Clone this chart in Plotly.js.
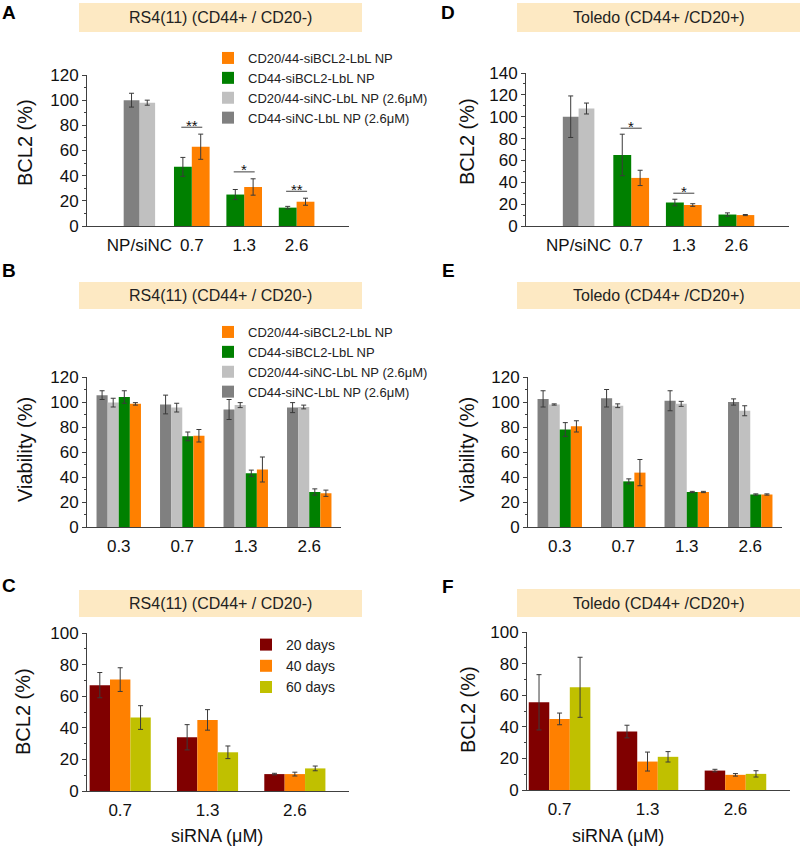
<!DOCTYPE html>
<html>
<head>
<meta charset="utf-8">
<script src="https://cdn.plot.ly/plotly-3.0.1.min.js"></script>
<style>
  html, body { margin: 0; padding: 0; background: #fff; }
  #chart { width: 800px; height: 849px; }
</style>
</head>
<body>
<div id="chart"></div>
<script>
const W = 800, H = 849;
const FONT = "Liberation Sans, Arial, sans-serif";

// categories
const knockCats = ["NP/siNC", "0.7", "1.3", "2.6"];
const viaCats = ["0.3", "0.7", "1.3", "2.6"];
const siRNACats = ["0.7", "1.3", "2.6"];
const seriesNames = ["CD20/44-siBCL2-LbL NP", "CD44-siBCL2-LbL NP",
  "CD20/44-siNC-LbL NP (2.6μM)", "CD44-siNC-LbL NP (2.6μM)"];
const dayNames = ["20 days", "40 days", "60 days"];

// A: RS4(11) BCL2 (%)
const aDark = [100], aDarkErr = [5.5];
const aLight = [98], aLightErr = [2];
const aGreen = [47, 25, 14.6], aGreenErr = [7.5, 4, 1];
const aOrange = [63, 31, 19.3], aOrangeErr = [10, 6.5, 2.8];
const aSig = ["**", "*", "**"];

// D: Toledo BCL2 (%)
const dDark = [100], dDarkErr = [19];
const dLight = [107.5], dLightErr = [5];
const dGreen = [65, 21.5, 10.5], dGreenErr = [19, 3, 1.5];
const dOrange = [44, 19.2, 10], dOrangeErr = [7, 1.2, 0.5];
const dSig = ["*", "*", ""];

// B: RS4(11) viability (%)
const bDark = [105.5, 98, 94, 95.5], bDarkErr = [3.5, 7.5, 8, 4];
const bLight = [99.5, 95.5, 97.5, 96], bLightErr = [3.5, 3.5, 2, 1.5];
const bGreen = [104, 72.5, 43, 28], bGreenErr = [5, 3.5, 2.5, 2.5];
const bOrange = [98.5, 73, 46, 27], bOrangeErr = [1, 5, 10, 2.5];

// E: Toledo viability (%)
const eDark = [102.5, 103, 101, 100], eDarkErr = [6.5, 7, 8, 2.5];
const eLight = [98, 97, 98.5, 93], eLightErr = [0.5, 1.5, 2, 4];
const eGreen = [78, 36.5, 28, 26], eGreenErr = [5.5, 2, 0.5, 0.5];
const eOrange = [80.5, 43.5, 28, 26], eOrangeErr = [4.5, 10.5, 0.5, 0.5];

// C: RS4(11) BCL2 over time
const c20 = [67, 34, 10.7], c20Err = [8, 8, 0.5];
const c40 = [70.5, 45, 10.7], c40Err = [7.5, 6.5, 1.2];
const c60 = [46.5, 24.5, 14.3], c60Err = [7.5, 4, 1.5];

// F: Toledo BCL2 over time
const f20 = [55.5, 37, 12.3], f20Err = [17.5, 4, 0.8];
const f40 = [45, 18, 9.6], f40Err = [3.7, 6, 0.8];
const f60 = [65, 21, 10.2], f60Err = [19, 3.3, 2];

const DARK = "#808080", LIGHT = "#c0c0c0", GREEN = "#008000", ORANGE = "#ff8000";
const RED = "#800000", OLIVE = "#c0c000";
const AXIS = "#404040", BOX = "#fde9c3";

const px = p => p / W;
const py = p => 1 - p / H;

function bar(x, y, err, color, name, xa, ya, extra) {
  return Object.assign({
    type: "bar", x: x, y: y, name: name,
    xaxis: xa, yaxis: ya,
    marker: { color: color, line: { width: 0 } },
    error_y: { type: "data", array: err, visible: true, color: "#3a3a3a", thickness: 1, width: 2.5 },
    showlegend: false
  }, extra || {});
}

const traces = [
  // A
  bar(knockCats.slice(1), aOrange, aOrangeErr, ORANGE, seriesNames[0], "x", "y", { offset: 0, width: 0.34, showlegend: true, legend: "legend" }),
  bar(knockCats.slice(1), aGreen, aGreenErr, GREEN, seriesNames[1], "x", "y", { offset: -0.34, width: 0.34, showlegend: true, legend: "legend" }),
  bar(knockCats.slice(0, 1), aLight, aLightErr, LIGHT, seriesNames[2], "x", "y", { offset: 0, width: 0.3, showlegend: true, legend: "legend" }),
  bar(knockCats.slice(0, 1), aDark, aDarkErr, DARK, seriesNames[3], "x", "y", { offset: -0.3, width: 0.3, showlegend: true, legend: "legend" }),
  // D
  bar(knockCats.slice(1), dOrange, dOrangeErr, ORANGE, seriesNames[0], "x2", "y2", { offset: 0, width: 0.34 }),
  bar(knockCats.slice(1), dGreen, dGreenErr, GREEN, seriesNames[1], "x2", "y2", { offset: -0.34, width: 0.34 }),
  bar(knockCats.slice(0, 1), dLight, dLightErr, LIGHT, seriesNames[2], "x2", "y2", { offset: 0, width: 0.3 }),
  bar(knockCats.slice(0, 1), dDark, dDarkErr, DARK, seriesNames[3], "x2", "y2", { offset: -0.3, width: 0.3 }),
  // B (legend listed in the same order as A)
  bar(viaCats, bDark, bDarkErr, DARK, seriesNames[3], "x3", "y3", { showlegend: true, legend: "legend2", legendrank: 4 }),
  bar(viaCats, bLight, bLightErr, LIGHT, seriesNames[2], "x3", "y3", { showlegend: true, legend: "legend2", legendrank: 3 }),
  bar(viaCats, bGreen, bGreenErr, GREEN, seriesNames[1], "x3", "y3", { showlegend: true, legend: "legend2", legendrank: 2 }),
  bar(viaCats, bOrange, bOrangeErr, ORANGE, seriesNames[0], "x3", "y3", { showlegend: true, legend: "legend2", legendrank: 1 }),
  // E
  bar(viaCats, eDark, eDarkErr, DARK, seriesNames[3], "x4", "y4"),
  bar(viaCats, eLight, eLightErr, LIGHT, seriesNames[2], "x4", "y4"),
  bar(viaCats, eGreen, eGreenErr, GREEN, seriesNames[1], "x4", "y4"),
  bar(viaCats, eOrange, eOrangeErr, ORANGE, seriesNames[0], "x4", "y4"),
  // C
  bar(siRNACats, c20, c20Err, RED, dayNames[0], "x5", "y5", { showlegend: true, legend: "legend3" }),
  bar(siRNACats, c40, c40Err, ORANGE, dayNames[1], "x5", "y5", { showlegend: true, legend: "legend3" }),
  bar(siRNACats, c60, c60Err, OLIVE, dayNames[2], "x5", "y5", { showlegend: true, legend: "legend3" }),
  // F
  bar(siRNACats, f20, f20Err, RED, dayNames[0], "x6", "y6"),
  bar(siRNACats, f40, f40Err, ORANGE, dayNames[1], "x6", "y6"),
  bar(siRNACats, f60, f60Err, OLIVE, dayNames[2], "x6", "y6")
];

function xAxis(cats, d0, d1, range, anchor) {
  return {
    type: "category", categoryorder: "array", categoryarray: cats,
    domain: [px(d0), px(d1)], range: range, anchor: anchor,
    showline: true, linecolor: AXIS, linewidth: 1,
    ticks: "outside", ticklen: 4, tickcolor: "rgba(0,0,0,0)",
    showgrid: false, zeroline: false, fixedrange: true,
    tickfont: { size: 17, color: "#111" }
  };
}
function yAxis(top, bottom, max, anchor) {
  return {
    domain: [py(bottom), py(top)], range: [0, max], anchor: anchor,
    dtick: 20, showline: true, linecolor: AXIS, linewidth: 1,
    ticks: "outside", ticklen: 4, tickcolor: AXIS,
    minor: { dtick: 10, ticks: "outside", ticklen: 2, tickcolor: AXIS },
    showgrid: false, zeroline: false, fixedrange: true,
    tickfont: { size: 17, color: "#111" }
  };
}

const panels = [
  { letter: "A", lx: 9, ly: 13, box: [79, 362, 3, 32], title: "RS4(11) (CD44+ / CD20-)" },
  { letter: "D", lx: 448, ly: 13, box: [517, 800, 3, 32], title: "Toledo (CD44+ /CD20+)" },
  { letter: "B", lx: 9, ly: 270, box: [79, 362, 282, 309], title: "RS4(11) (CD44+ / CD20-)" },
  { letter: "E", lx: 448, ly: 270, box: [517, 800, 282, 309], title: "Toledo (CD44+ /CD20+)" },
  { letter: "C", lx: 9, ly: 585, box: [79, 362, 590, 617], title: "RS4(11) (CD44+ / CD20-)" },
  { letter: "F", lx: 448, ly: 586, box: [517, 800, 589, 617], title: "Toledo (CD44+ /CD20+)" }
];

const shapes = [], annotations = [];
panels.forEach(p => {
  const [x0, x1, y0, y1] = p.box;
  shapes.push({ type: "rect", xref: "paper", yref: "paper", x0: px(x0), x1: px(x1), y0: py(y1), y1: py(y0),
    fillcolor: BOX, line: { width: 0 }, layer: "below" });
  annotations.push({ xref: "paper", yref: "paper", x: px((x0 + x1) / 2), y: py((y0 + y1) / 2),
    text: p.title, showarrow: false, xanchor: "center", yanchor: "middle", font: { size: 16, color: "#222" } });
  annotations.push({ xref: "paper", yref: "paper", x: px(p.lx), y: py(p.ly), text: "<b>" + p.letter + "</b>",
    showarrow: false, xanchor: "center", yanchor: "middle", font: { size: 19, color: "#000" } });
});

// axis titles
[["BCL2 (%)", 25, 143], ["BCL2 (%)", 467, 142], ["Viability (%)", 25, 450],
 ["Viability (%)", 467, 450], ["BCL2 (%)", 23, 712], ["BCL2 (%)", 468, 710]].forEach(t => {
  annotations.push({ xref: "paper", yref: "paper", x: px(t[1]), y: py(t[2]), text: t[0], textangle: -90,
    showarrow: false, xanchor: "center", yanchor: "middle", font: { size: 20, color: "#111" } });
});
[[217, 836], [618, 836]].forEach(t => {
  annotations.push({ xref: "paper", yref: "paper", x: px(t[0]), y: py(t[1]), text: "siRNA (μM)",
    showarrow: false, xanchor: "center", yanchor: "middle", font: { size: 18, color: "#111" } });
});

// significance brackets over green/orange pairs
function addSig(sig, green, greenErr, orange, orangeErr, xa, ya) {
  sig.forEach((s, i) => {
    if (!s) return;
    const top = Math.max(green[i] + greenErr[i], orange[i] + orangeErr[i]) + 5.5;
    const c = i + 1;
    shapes.push({ type: "line", xref: xa, yref: ya, x0: c - 0.2, x1: c + 0.2, y0: top, y1: top,
      line: { color: AXIS, width: 1 } });
    annotations.push({ xref: xa, yref: ya, x: c, y: top, text: s, showarrow: false,
      xanchor: "center", yanchor: "middle", yshift: 2, font: { size: 15, color: "#111" } });
  });
}
addSig(aSig, aGreen, aGreenErr, aOrange, aOrangeErr, "x", "y");
addSig(dSig, dGreen, dGreenErr, dOrange, dOrangeErr, "x2", "y2");

const legendBase = { bgcolor: "rgba(0,0,0,0)", borderwidth: 0, xanchor: "left", yanchor: "top",
  traceorder: "normal", font: { size: 13, color: "#222" }, itemclick: false, itemdoubleclick: false };

const layout = {
  width: W, height: H,
  margin: { l: 0, r: 0, t: 0, b: 0 },
  paper_bgcolor: "#fff", plot_bgcolor: "rgba(0,0,0,0)",
  font: { family: FONT, color: "#111" },
  barmode: "group", bargap: 0.3, bargroupgap: 0,
  xaxis: xAxis(knockCats, 87, 349, [-1, 4], "y"),
  yaxis: yAxis(75, 226, 120, "x"),
  xaxis2: xAxis(knockCats, 526, 789, [-1, 4], "y2"),
  yaxis2: yAxis(73, 226, 140, "x2"),
  xaxis3: xAxis(viaCats, 87, 341, [-0.5, 3.5], "y3"),
  yaxis3: yAxis(377, 527, 120, "x3"),
  xaxis4: xAxis(viaCats, 528, 782, [-0.5, 3.5], "y4"),
  yaxis4: yAxis(377, 527, 120, "x4"),
  xaxis5: xAxis(siRNACats, 87, 349, [-0.38, 2.62], "y5"),
  yaxis5: yAxis(633, 791, 100, "x5"),
  xaxis6: xAxis(siRNACats, 527, 790, [-0.37, 2.62], "y6"),
  yaxis6: yAxis(632, 790, 100, "x6"),
  legend: Object.assign({}, legendBase, { x: px(208), y: py(43) }),
  legend2: Object.assign({}, legendBase, { x: px(208), y: py(317) }),
  legend3: Object.assign({}, legendBase, { x: px(246), y: py(629), font: { size: 14, color: "#222" } }),
  shapes: shapes,
  annotations: annotations
};

Plotly.newPlot("chart", traces, layout, { displayModeBar: false, staticPlot: true });
</script>
</body>
</html>
